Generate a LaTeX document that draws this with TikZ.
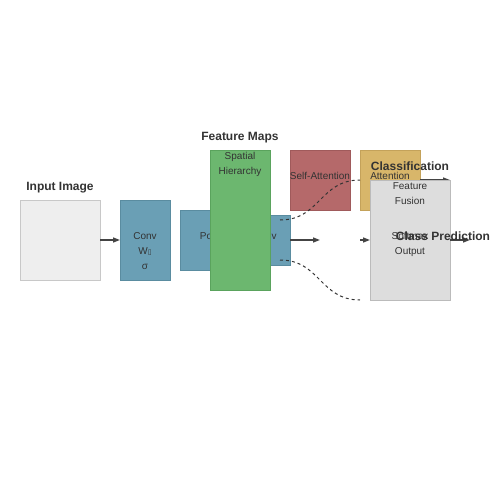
\documentclass[tikz,border=0pt]{standalone}
\usepackage{fontspec}
\setmainfont{Liberation Sans}
\newfontfamily\dejavu{DejaVu Sans}
\usetikzlibrary{arrows.meta}
\definecolor{txt}{HTML}{333333}
\definecolor{arc}{HTML}{444444}
\definecolor{inF}{HTML}{EEEEEE}
\definecolor{inD}{HTML}{C8C8C8}
\definecolor{blF}{HTML}{6A9FB5}
\definecolor{blD}{HTML}{5A8CA0}
\definecolor{grF}{HTML}{6CB76F}
\definecolor{grD}{HTML}{5AA35D}
\definecolor{rdF}{HTML}{B5696A}
\definecolor{rdD}{HTML}{A05A5B}
\definecolor{ylF}{HTML}{D8B66A}
\definecolor{ylD}{HTML}{C4A25A}
\definecolor{gyF}{HTML}{DDDDDD}
\definecolor{gyD}{HTML}{BBBBBB}
\newcommand{\tofu}{{\dejavu\fontsize{7}{8}\selectfont\symbol{"25AF}}}
\begin{document}
\begin{tikzpicture}[x=1pt,y=-1pt]
\tikzset{
 blk/.style={rectangle, inner sep=0pt, outer sep=0pt, line width=1pt},
 lbl/.style={text=txt, font=\fontsize{10}{12}\selectfont, inner sep=0pt, anchor=base},
 ttl/.style={text=txt, font=\bfseries\fontsize{12}{14}\selectfont, inner sep=0pt, anchor=base},
 arr/.style={draw=arc, line width=1.4pt, -{Triangle[length=7pt,width=5pt]}},
 dsh/.style={draw=txt, line width=1pt, dash pattern=on 3pt off 3pt}
}
\useasboundingbox (0,0) rectangle (500,500);
% input
\node[blk, fill=inF, draw=inD, minimum width=80pt, minimum height=80pt] (input) at (60,240) {};
\node[ttl] (tin) at (60,190.3) {Input Image};
% conv 1
\node[blk, fill=blF, draw=blD, minimum width=50pt, minimum height=80pt] (conv1) at (145,240) {};
\node[lbl] (c1a) at (145,239.6) {Conv};
\node[lbl] (c1b) at (145,254.6) {W\tofu};
\node[lbl] (c1c) at (145,269.6) {σ};
\draw[arr] (input.east) -- (conv1.west);
% pool
\node[blk, fill=blF, draw=blD, minimum width=60pt, minimum height=60pt] (pool) at (210,240) {};
\node[lbl] (pl) at (210,239.6) {Pool};
% conv 2
\node[blk, fill=blF, draw=blD, minimum width=50pt, minimum height=50pt] (conv2) at (265,240) {};
\node[lbl] (c2a) at (265,239.6) {Conv};
\node[lbl] (c2b) at (265,254.6) {W\tofu};
\node[lbl] (c2c) at (265,269.6) {σ};
% feature maps
\node[blk, fill=grF, draw=grD, minimum width=60pt, minimum height=140pt] (fmap) at (240,220) {};
\node[lbl] (fm1) at (240,159.6) {Spatial};
\node[lbl] (fm2) at (240,174.6) {Hierarchy};
\node[ttl] (tfm) at (240,140.3) {Feature Maps};
% attention blocks
\node[blk, fill=rdF, draw=rdD, minimum width=60pt, minimum height=60pt] (self) at (320,180) {};
\node[lbl] (sa) at (320,179.6) {Self-Attention};
\node[blk, fill=ylF, draw=ylD, minimum width=60pt, minimum height=60pt] (att) at (390,180) {};
\node[lbl] (at) at (390,179.6) {Attention};
% dashed links
\coordinate (d1) at (280,220);
\coordinate (d2) at (280,260);
\coordinate (d3) at (360,300);
\draw[dsh] (d1) .. controls (320,220) and (320,180) .. (att.west);
\draw[dsh] (d2) .. controls (320,260) and (320,300) .. (d3);
% arrows
\coordinate (a1) at (320,240);
\coordinate (a2) at (360,240);
\coordinate (a3) at (450,180);
\coordinate (a4) at (470,240);
\draw[arr] (conv2.east) -- (a1);
\draw[arr] (att.east) -- (a3);
% classification
\node[blk, fill=gyF, draw=gyD, minimum width=80pt, minimum height=120pt] (cls) at (410,240) {};
\draw[arr] (a2) -- (cls.west);
\node[lbl] (cf1) at (410,189.6) {Feature};
\node[lbl] (cf2) at (410,204.6) {Fusion};
\node[lbl] (cf3) at (410,239.6) {Softmax};
\node[lbl] (cf4) at (410,254.6) {Output};
\node[ttl] (tcl) at (410,170.3) {Classification};
\draw[arr] (cls.east) -- (a4);
\node[ttl] (tcp) at (443,240.3) {Class Prediction};
\end{tikzpicture}
\end{document}
